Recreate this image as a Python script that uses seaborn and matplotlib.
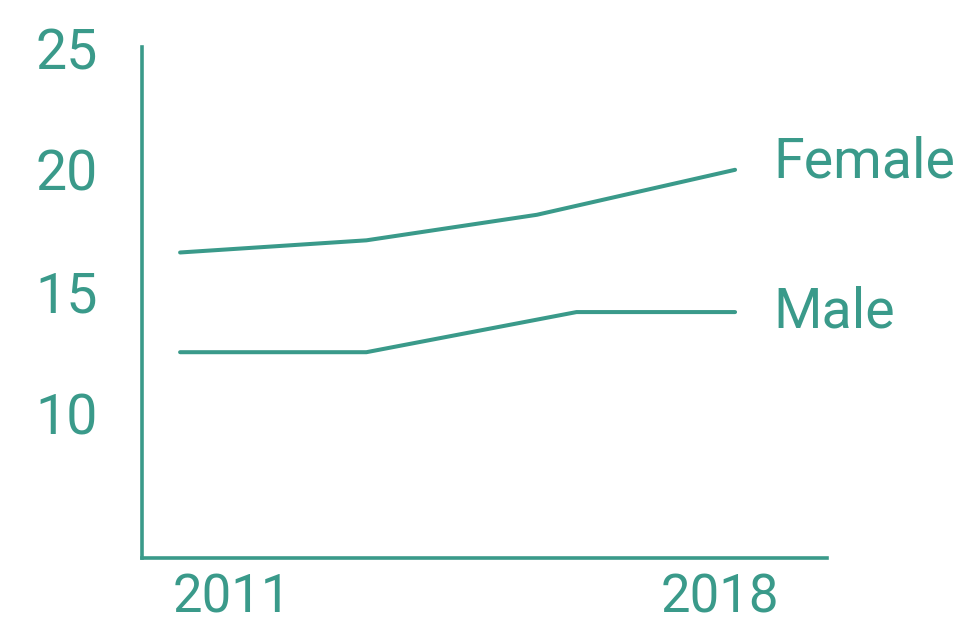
import matplotlib
matplotlib.use("Agg")
import matplotlib.pyplot as plt
import matplotlib.transforms as mtransforms
import pandas as pd
import seaborn as sns

# Survey points (year, value) for each group
female_years = [2011, 2013.35, 2015.5, 2018]
female_values = [16.6, 17.1, 18.15, 20.0]
male_years = [2011, 2013.35, 2016, 2018]
male_values = [12.5, 12.5, 14.15, 14.15]

groups = ["Female", "Male"]
y_ticks = [10, 15, 20, 25]
x_ticks = [2011, 2018]

TEAL = "#3a9a8a"

df = pd.concat([
    pd.DataFrame({"year": female_years, "value": female_values, "group": "Female"}),
    pd.DataFrame({"year": male_years, "value": male_values, "group": "Male"}),
])

sns.set_theme(style="white")
plt.rcParams["font.family"] = ["Roboto", "DejaVu Sans"]
plt.rcParams["font.weight"] = "normal"

fig = plt.figure(figsize=(9.59, 6.23), dpi=100)
ax = fig.add_axes([0.1481, 0.1048, 0.7143, 0.8198])

sns.lineplot(data=df, x="year", y="value", hue="group",
             palette={g: TEAL for g in groups}, linewidth=2.9,
             legend=False, ax=ax, sort=False)

ax.set_xlim(2010.52, 2019.16)
ax.set_ylim(4.05, 25.05)
ax.set_xlabel("")
ax.set_ylabel("")

for side in ("top", "right"):
    ax.spines[side].set_visible(False)
for side in ("left", "bottom"):
    ax.spines[side].set_color(TEAL)
    ax.spines[side].set_linewidth(2.6)

ax.set_yticks(y_ticks)
ax.set_yticklabels([str(v) for v in y_ticks])
ax.set_xticks(x_ticks)
ax.set_xticklabels([str(v) for v in x_ticks])
ax.tick_params(axis="both", length=0, labelsize=40, colors=TEAL)
ax.tick_params(axis="y", pad=32)
ax.tick_params(axis="x", pad=11, labelsize=38)

# nudge the year labels inward
shifts = [52, -15]
for lab, dx in zip(ax.get_xticklabels(), shifts):
    lab.set_transform(lab.get_transform() +
                      mtransforms.ScaledTranslation(dx / 100, 0, fig.dpi_scale_trans))

# direct labels at the line ends
ends = {
    "Female": (female_years[-1], female_values[-1], -8),
    "Male": (male_years[-1], male_values[-1], -15),
}
for g in groups:
    x, y, dy = ends[g]
    ax.annotate(g, xy=(x, y), xytext=(38, dy), textcoords="offset pixels",
                ha="left", va="baseline", fontsize=40, color=TEAL)

fig.savefig("out.png", dpi=100)
